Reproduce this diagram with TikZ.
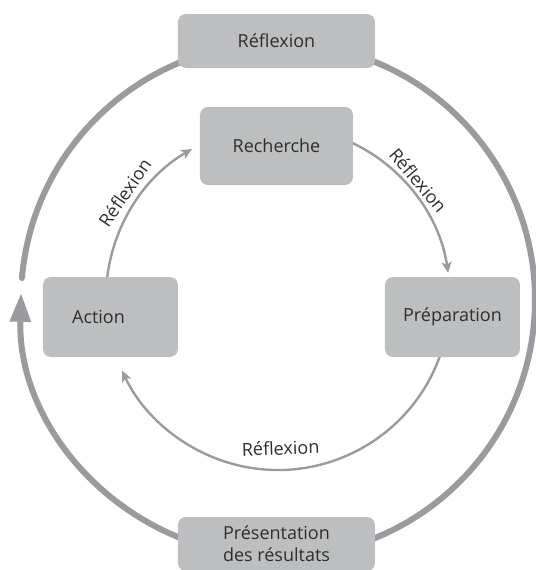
\documentclass[tikz,border=0pt]{standalone}
\usepackage{fontspec}
\setmainfont{Open Sans}
\usetikzlibrary{arrows.meta}
\definecolor{boxgray}{HTML}{BDBEC0}
\definecolor{linegray}{HTML}{9A9B9E}
\definecolor{textgray}{HTML}{2E2E2E}
\tikzset{
  etape/.style={fill=boxgray,rounded corners=4pt,text=textgray,font=\fontsize{9}{11}\selectfont,align=center,inner sep=0pt},
  anneau/.style={draw=linegray,line width=3pt},
  fleche/.style={draw=linegray,line width=1.2pt,-{Stealth[length=5.5pt,width=5pt,inset=1.5pt]}},
  mot/.style={text=textgray,font=\fontsize{9}{11}\selectfont}
}
\begin{document}
\begin{tikzpicture}[line cap=round,line join=round,x=0.5pt,y=0.5pt]
	\clip(0,0) rectangle (536,570);
	\coordinate (ctr) at (278,270);
	\coordinate (mid) at (278,272);
	\draw [anneau,-{Triangle[length=14.5pt,width=10pt]}] (ctr) ++(175.1:257) arc[start angle=175.1,end angle=-181.6,radius=257];
	\draw [fleche] (mid) ++(175:172) arc[start angle=175,end angle=120,radius=172];
	\draw [fleche] (mid) ++(68:172) arc[start angle=68,end angle=8.4,radius=172];
	\draw [fleche] (mid) ++(-17:172) arc[start angle=-17,end angle=-155,radius=172];
	\node [etape,minimum width=98.5pt,minimum height=27pt] (refl) at (276.5,529) {Réflexion};
	\node [etape,minimum width=98.5pt,minimum height=27pt] (pres) at (276.5,26) {Présentation\\des résultats};
	\node [etape,minimum width=76.5pt,minimum height=39pt] (rech) at (276.5,424) {Recherche};
	\node [etape,minimum width=67.5pt,minimum height=40pt] (action) at (110.5,253) {Action\hspace{12pt}};
	\node [etape,minimum width=67.5pt,minimum height=40pt] (prep) at (452.5,253) {Préparation};
	\path (mid) ++(145.5:186) node [mot,rotate=55.5] (refla) {Réflexion};
	\path (mid) ++(40:183) node [mot,rotate=-50] (reflb) {Réflexion};
	\path (mid) ++(-89:150) node [mot,rotate=2] (reflc) {Réflexion};
\end{tikzpicture}
\end{document}
